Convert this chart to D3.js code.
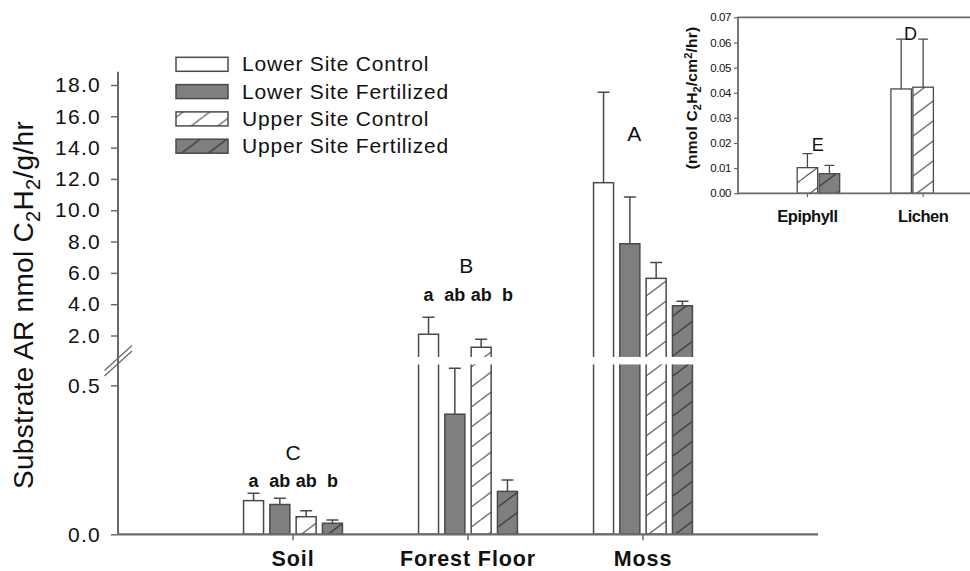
<!DOCTYPE html>
<html lang="en">
<head>
<meta charset="utf-8">
<title>Substrate AR</title>
<style>
  body { margin: 0; background: #fff; font-family: "Liberation Sans", Arial, sans-serif; }
  svg { display: block; }
</style>
</head>
<body>
<div id="chart"></div>
<script src="https://d3js.org/d3.v7.min.js"></script>
<script>
// main panel values (nmol C2H2 / g / hr), one entry per series
var categories = ["Soil", "Forest Floor", "Moss"];
var seriesNames = ["Lower Site Control", "Lower Site Fertilized", "Upper Site Control", "Upper Site Fertilized"];
var soilMean = [0.113, 0.100, 0.059, 0.037];
var soilErr = [0.025, 0.021, 0.020, 0.011];
var forestMean = [2.08, 0.403, 1.25, 0.144];
var forestErr = [1.08, 0.154, 0.51, 0.038];
var mossMean = [11.76, 7.86, 5.65, 3.90];
var mossErr = [5.77, 2.98, 1.02, 0.28];
var groupLetters = ["C", "B", "A"];
var pairLetters = [["a", "ab", "ab", "b"], ["a", "ab", "ab", "b"], []];
var lowerTicks = [0, 0.5];
var upperTicks = [2, 4, 6, 8, 10, 12, 14, 16, 18];

// inset values (nmol C2H2 / cm2 / hr)
var insetCategories = ["Epiphyll", "Lichen"];
var insetLowerControl = [null, 0.0415];
var insetLowerControlErr = [null, 0.0198];
var insetUpperControl = [0.0102, 0.0422];
var insetUpperControlErr = [0.0056, 0.0191];
var insetUpperFert = [0.0078, null];
var insetUpperFertErr = [0.0033, null];
var insetLetters = ["E", "D"];
var insetTicks = [0, 0.01, 0.02, 0.03, 0.04, 0.05, 0.06, 0.07];

var W = 970, H = 571;
var axisCol = "#6a6a6a", barLine = "#4a4a4a", darkFill = "#7f7f7f", ink = "#111";

var svg = d3.select("#chart").append("svg").attr("width", W).attr("height", H);

// hatch patterns
var defs = svg.append("defs");
function hatch(id, bg, line) {
    var p = defs.append("pattern").attr("id", id)
        .attr("patternUnits", "userSpaceOnUse")
        .attr("width", 26.7).attr("height", 20);
    p.append("rect").attr("width", 26.7).attr("height", 20).attr("fill", bg);
    p.append("path").attr("d", "M0,20L26.7,0M-13.35,10L0,0M26.7,20L40,10")
        .attr("stroke", line).attr("stroke-width", 1.2).attr("fill", "none");
}
hatch("hatchLight", "#fff", "#555");
hatch("hatchDark", darkFill, "#333");
var fills = ["#fff", darkFill, "url(#hatchLight)", "url(#hatchDark)"];

// ---- main panel scales (broken y axis) ----
var x = d3.scaleLinear().domain([0, 4]).range([118, 818]);
var slot = d3.scaleBand().domain(d3.range(4)).range([-52.6, 52.6]).paddingInner(0.24).paddingOuter(0.12);
var yLow = d3.scaleLinear().domain([0, 0.5]).range([534.3, 385.3]);
var yHigh = d3.scaleLinear().domain([2, 18]).range([335.5, 85]);
var breakValue = 0.6;
function y(v) { return v < breakValue ? yLow(v) : yHigh(v); }
var gapTop = yHigh(0.63), gapBottom = yLow(0.57);

var means = [soilMean, forestMean, mossMean];
var errs = [soilErr, forestErr, mossErr];
var bars = [];
categories.forEach(function (c, ci) {
    seriesNames.forEach(function (s, si) {
        bars.push({ c: ci, s: si, v: means[ci][si], e: errs[ci][si] });
    });
});

var bw = slot.bandwidth();
function barX(d) { return x(d.c + 1) + slot(d.s); }

var g = svg.append("g");
// error bars (up only)
g.selectAll(".err").data(bars).enter().append("path")
    .attr("d", function (d) {
        var cx = barX(d) + bw / 2, y1 = y(d.v), y2 = y(d.v + d.e);
        return "M" + cx + "," + y1 + "V" + y2 + "M" + (cx - 6) + "," + y2 + "H" + (cx + 6);
    })
    .attr("stroke", barLine).attr("stroke-width", 1.5).attr("fill", "none");

g.selectAll(".bar").data(bars).enter().append("rect")
    .attr("x", barX).attr("width", bw)
    .attr("y", function (d) { return y(d.v); })
    .attr("height", function (d) { return y(0) - y(d.v); })
    .attr("fill", function (d) { return fills[d.s]; })
    .attr("stroke", barLine).attr("stroke-width", 1.5);

// white gap across bars that cross the axis break
g.selectAll(".gap").data(bars.filter(function (d) { return d.v > 0.57; })).enter().append("rect")
    .attr("x", function (d) { return barX(d) - 2; }).attr("width", bw + 4)
    .attr("y", gapTop).attr("height", gapBottom - gapTop)
    .attr("fill", "#fff");

// y axis
function styleAxis(sel) {
    sel.select(".domain").remove();
    sel.selectAll(".tick line").attr("stroke", axisCol).attr("stroke-width", 1.5);
    sel.selectAll(".tick text").attr("fill", ink)
        .style("font-size", "21px").style("letter-spacing", "1.3px");
}
svg.append("g").attr("transform", "translate(118,0)")
    .call(d3.axisLeft(yLow).tickValues(lowerTicks).tickFormat(d3.format(".1f")).tickSize(7).tickPadding(10))
    .call(styleAxis);
svg.append("g").attr("transform", "translate(118,0)")
    .call(d3.axisLeft(yHigh).tickValues(upperTicks).tickFormat(d3.format(".1f")).tickSize(7).tickPadding(10))
    .call(styleAxis);
svg.append("line").attr("x1", 118).attr("x2", 118)
    .attr("y1", y(0)).attr("y2", yHigh(18.85))
    .attr("stroke", axisCol).attr("stroke-width", 2);

// break marks on y axis
var bm = (gapTop + gapBottom) / 2;
[-2.8, 2.8].forEach(function (o) {
    svg.append("line")
        .attr("x1", 118 - 13.5).attr("y1", bm + o + 12.5)
        .attr("x2", 118 + 14).attr("y2", bm + o - 12.5)
        .attr("stroke", axisCol).attr("stroke-width", 1.3);
});

// x axis
svg.append("line").attr("x1", x(0)).attr("x2", x(4)).attr("y1", y(0)).attr("y2", y(0))
    .attr("stroke", axisCol).attr("stroke-width", 2.2);
svg.selectAll(".xt").data(categories).enter().append("line")
    .attr("x1", function (d, i) { return x(i + 1); }).attr("x2", function (d, i) { return x(i + 1); })
    .attr("y1", y(0)).attr("y2", y(0) + 6)
    .attr("stroke", axisCol).attr("stroke-width", 1.5);
svg.selectAll(".xl").data(categories).enter().append("text")
    .attr("x", function (d, i) { return x(i + 1); }).attr("y", 566)
    .attr("text-anchor", "middle").attr("fill", ink)
    .style("font-size", "21.5px").style("font-weight", "bold").style("letter-spacing", "0.9px")
    .text(function (d) { return d; });

// y label
var yl = svg.append("text").attr("transform", "translate(33,305) rotate(-90)")
    .attr("text-anchor", "middle").attr("fill", ink)
    .style("font-size", "28px").style("letter-spacing", "0.3px");
yl.append("tspan").text("Substrate AR nmol C");
yl.append("tspan").attr("dy", 7).style("font-size", "20px").text("2");
yl.append("tspan").attr("dy", -7).text("H");
yl.append("tspan").attr("dy", 7).style("font-size", "20px").text("2");
yl.append("tspan").attr("dy", -7).text("/g/hr");

// significance letters
var letterLayout = [
    { cap: 0.249, low: 0.159, capX: 1.0 },
    { cap: 5.99, low: 4.22, capX: 1.99 },
    { cap: 14.42, low: null, capX: 2.95 }
];
letterLayout.forEach(function (L, ci) {
    svg.append("text").attr("x", x(L.capX)).attr("y", y(L.cap))
        .attr("text-anchor", "middle").attr("fill", ink).style("font-size", "21px")
        .text(groupLetters[ci]);
    pairLetters[ci].forEach(function (t, si) {
        svg.append("text").attr("x", x(ci + 1) + slot(si) + bw / 2).attr("y", y(L.low))
            .attr("text-anchor", "middle").attr("fill", ink)
            .style("font-size", "18px").style("font-weight", "bold")
            .text(t);
    });
});

// legend
var leg = svg.append("g").attr("transform", "translate(176,57.3)");
seriesNames.forEach(function (s, i) {
    leg.append("rect").attr("x", 0).attr("y", i * 27.3).attr("width", 52).attr("height", 14)
        .attr("fill", fills[i]).attr("stroke", barLine).attr("stroke-width", 1.5);
    leg.append("text").attr("x", 66).attr("y", i * 27.3 + 14).attr("fill", ink)
        .style("font-size", "21px").style("letter-spacing", "0.8px").text(s);
});

// ---- inset ----
var ix = d3.scaleLinear().domain([0.4, 2.5]).range([738, 981]);
var iy = d3.scaleLinear().domain([0, 0.07]).range([193.3, 17.3]);
var islot = 22, ibw = 20.5;
var inset = svg.append("g");
var iBars = [];
insetCategories.forEach(function (c, ci) {
    [[insetLowerControl, insetLowerControlErr, 0, -1],
     [insetUpperControl, insetUpperControlErr, 2, 0],
     [insetUpperFert, insetUpperFertErr, 3, 1]].forEach(function (sr) {
        if (sr[0][ci] != null) iBars.push({ c: ci, v: sr[0][ci], e: sr[1][ci], s: sr[2], off: sr[3] });
    });
});
function ibx(d) { return ix(d.c + 1) + d.off * islot - ibw / 2; }
inset.selectAll(".ierr").data(iBars).enter().append("path")
    .attr("d", function (d) {
        var cx = ibx(d) + ibw / 2, y1 = iy(d.v), y2 = iy(d.v + d.e);
        return "M" + cx + "," + y1 + "V" + y2 + "M" + (cx - 5) + "," + y2 + "H" + (cx + 5);
    })
    .attr("stroke", barLine).attr("stroke-width", 1.3).attr("fill", "none");
inset.selectAll(".ibar").data(iBars).enter().append("rect")
    .attr("x", ibx).attr("width", ibw)
    .attr("y", function (d) { return iy(d.v); })
    .attr("height", function (d) { return iy(0) - iy(d.v); })
    .attr("fill", function (d) { return fills[d.s]; })
    .attr("stroke", barLine).attr("stroke-width", 1.3);

var iax = svg.append("g").attr("transform", "translate(738,0)")
    .call(d3.axisLeft(iy).tickValues(insetTicks).tickFormat(d3.format(".2f")).tickSize(4).tickPadding(3));
iax.select(".domain").remove();
iax.selectAll(".tick line").attr("stroke", axisCol).attr("stroke-width", 1.2);
iax.selectAll(".tick text").attr("fill", ink)
    .style("font-size", "11.5px").style("letter-spacing", "-0.4px");
svg.append("path")
    .attr("d", "M970," + iy(0.07) + "H738V" + iy(0) + "H970")
    .attr("fill", "none").attr("stroke", axisCol).attr("stroke-width", 1.8);
svg.selectAll(".ixt").data(insetCategories).enter().append("line")
    .attr("x1", function (d, i) { return ix(i + 1); }).attr("x2", function (d, i) { return ix(i + 1); })
    .attr("y1", iy(0)).attr("y2", iy(0) + 4)
    .attr("stroke", axisCol).attr("stroke-width", 1.2);
svg.selectAll(".ixl").data(insetCategories).enter().append("text")
    .attr("x", function (d, i) { return ix(i + 1); }).attr("y", 221.5)
    .attr("text-anchor", "middle").attr("fill", ink)
    .style("font-size", "16.5px").style("font-weight", "bold").style("letter-spacing", "-0.5px")
    .text(function (d) { return d; });

var insetLetterLayout = [{ v: 0.017, at: 1.09 }, { v: 0.061, at: 1.89 }];
insetLetterLayout.forEach(function (L, i) {
    svg.append("text").attr("x", ix(L.at)).attr("y", iy(L.v))
        .attr("text-anchor", "middle").attr("fill", ink).style("font-size", "18px")
        .text(insetLetters[i]);
});

var iyl = svg.append("text").attr("transform", "translate(697,98) rotate(-90)")
    .attr("text-anchor", "middle").attr("fill", ink)
    .style("font-size", "15.5px").style("font-weight", "bold").style("letter-spacing", "0.2px");
iyl.append("tspan").text("(nmol C");
iyl.append("tspan").attr("dy", 4).style("font-size", "11px").text("2");
iyl.append("tspan").attr("dy", -4).text("H");
iyl.append("tspan").attr("dy", 4).style("font-size", "11px").text("2");
iyl.append("tspan").attr("dy", -4).text("/cm");
iyl.append("tspan").attr("dy", -5).style("font-size", "11px").text("2");
iyl.append("tspan").attr("dy", 5).text("/hr)");
</script>
</body>
</html>
